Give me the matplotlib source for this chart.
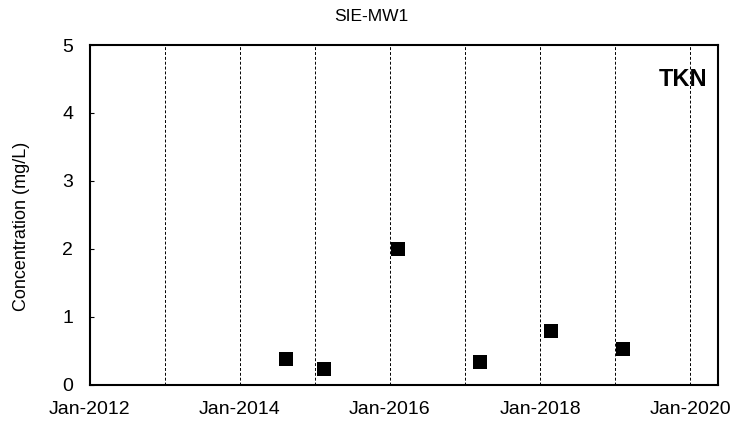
import numpy as np
import pandas as pd
import matplotlib
matplotlib.use("Agg")
import matplotlib.pyplot as plt
import matplotlib.dates as mdates

plt.rcParams["font.family"] = ["Liberation Sans", "DejaVu Sans"]

SAMPLE_DATES = ["2014-08-15", "2015-02-15", "2016-02-10", "2017-03-15", "2018-02-25", "2019-02-10"]
TKN_VALUES = [0.38, 0.23, 2.0, 0.34, 0.79, 0.53]

GRID_YEARS = list(range(2013, 2021))
TICK_YEARS = [2012, 2014, 2016, 2018, 2020]

dates = pd.to_datetime(SAMPLE_DATES)

fig = plt.figure(figsize=(7.43, 4.29), dpi=100)
ax = fig.add_axes([0.121, 0.103, 0.845, 0.792])

ax.scatter(dates, TKN_VALUES, marker="s", s=105, color="black", zorder=3, linewidths=0)

for yr in GRID_YEARS:
    ax.axvline(pd.Timestamp(f"{yr}-01-01"), color="black", linestyle=(0, (3, 2)), linewidth=0.7, zorder=1)

ax.set_xlim(pd.Timestamp("2012-01-01"), pd.Timestamp("2020-05-15"))
ax.set_ylim(0, 5)
ax.set_xticks([pd.Timestamp(f"{y}-01-01") for y in TICK_YEARS])
ax.xaxis.set_major_formatter(mdates.DateFormatter("%b-%Y"))
ax.set_yticks(range(0, 6))

ax.tick_params(axis="x", length=0, pad=12, labelsize=14)
ax.tick_params(axis="y", direction="in", length=3, pad=12, labelsize=14)
for sp in ax.spines.values():
    sp.set_linewidth(1.5)

ax.set_ylabel("Concentration (mg/L)", fontsize=13)
ax.yaxis.set_label_coords(-0.095, 0.465)
ax.set_title("SIE-MW1", fontsize=12.5, pad=17, x=0.449)
ax.text(0.984, 0.9, "TKN", transform=ax.transAxes, ha="right", va="center",
        fontsize=17, fontweight="bold")

fig.savefig("out.png", dpi=100)
